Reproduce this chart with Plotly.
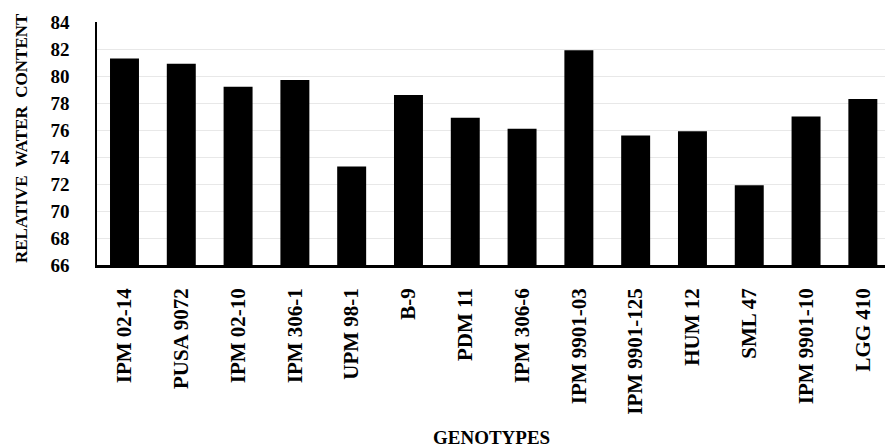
import plotly.graph_objects as go

genotypes = ["IPM 02-14", "PUSA 9072", "IPM 02-10", "IPM 306-1", "UPM 98-1", "B-9",
             "PDM 11", "IPM 306-6", "IPM 9901-03", "IPM 9901-125", "HUM 12", "SML 47",
             "IPM 9901-10", "LGG 410"]
rwc = [81.3, 80.9, 79.2, 79.7, 73.3, 78.6, 76.9, 76.1, 81.9, 75.6, 75.9, 71.9, 77.0, 78.3]
y_ticks = [66, 68, 70, 72, 74, 76, 78, 80, 82, 84]

font_family = "Liberation Serif, Times New Roman, serif"

fig = go.Figure(go.Bar(x=genotypes, y=rwc, marker=dict(color="black", line=dict(width=0)),
                       width=0.51))

fig.update_layout(
    width=885, height=447,
    margin=dict(l=97, r=0, t=22, b=182, autoexpand=False),
    paper_bgcolor="white", plot_bgcolor="white",
    showlegend=False,
    font=dict(family=font_family, color="black"),
    xaxis=dict(
        range=[-0.484, 13.39],
        tickangle=-90,
        tickfont=dict(size=21, family=font_family, weight="bold", color="black"),
        showline=True, linecolor="black", linewidth=2.5,
        showgrid=False, ticks="", ticklabelstandoff=12,
    ),
    yaxis=dict(
        range=[66, 84],
        tickvals=y_ticks,
        tickfont=dict(size=19, family=font_family, weight="bold", color="black"),
        showline=True, linecolor="black", linewidth=1.5,
        showgrid=True, gridcolor="#e8e8e8", gridwidth=1,
        zeroline=False, ticks="", ticklabelstandoff=22,
    ),
    annotations=[
        dict(text="<b>RELATIVE  WATER  CONTENT</b>", xref="paper", yref="paper",
             x=-0.095, y=0.523, textangle=-90, showarrow=False,
             font=dict(size=17, family=font_family, color="black"),
             xanchor="center", yanchor="middle"),
        dict(text="<b>GENOTYPES</b>", xref="paper", yref="paper",
             x=0.501, y=-0.708, showarrow=False,
             font=dict(size=19, family=font_family, color="black"),
             xanchor="center", yanchor="middle"),
    ],
)

fig.write_html("out.html", config={"displayModeBar": False},
               post_script="document.body.style.margin='0';document.body.style.overflow='hidden';")
